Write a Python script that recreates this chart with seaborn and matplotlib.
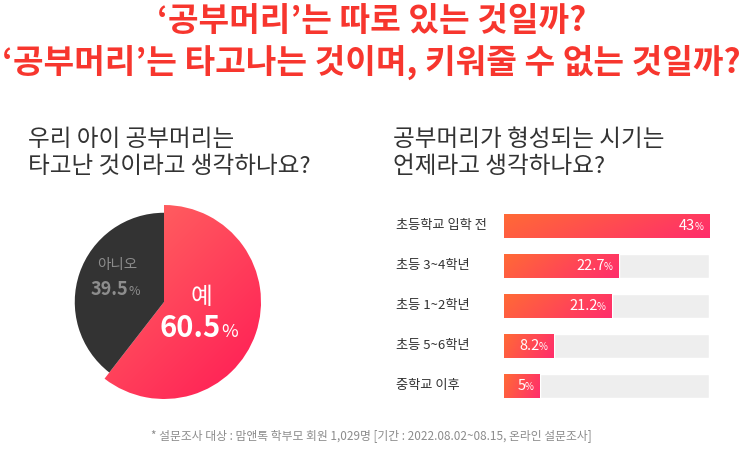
import matplotlib.pyplot as plt
import matplotlib.colors as mcolors
import numpy as np
import seaborn as sns

# data
pie_labels = ['예', '아니오']
pie_values = [60.5, 39.5]
periods = ['초등학교 입학 전', '초등 3~4학년', '초등 1~2학년', '초등 5~6학년', '중학교 이후']
period_values = [43, 22.7, 21.2, 8.2, 5]

title_lines = ["‘공부머리’는 따로 있는 것일까?", "‘공부머리’는 타고나는 것이며, 키워줄 수 없는 것일까?"]
q_left = ['우리 아이 공부머리는', '타고난 것이라고 생각하나요?']
q_right = ['공부머리가 형성되는 시기는', '언제라고 생각하나요?']
footnote = '* 설문조사 대상 : 맘앤톡 학부모 회원 1,029명 [기간 : 2022.08.02~08.15, 온라인 설문조사]'

sns.set_theme(style='white')
plt.rcParams['font.family'] = ['Noto Sans CJK KR', 'DejaVu Sans']

W, H = 743, 471
fig = plt.figure(figsize=(W / 100, H / 100), dpi=100)
fig.patch.set_facecolor('white')

red = '#f7362e'
for i, line in enumerate(title_lines):
    fig.text(0.5, 1 - (22 + 40 * i) / H, line, ha='center', va='center',
             fontsize=24, weight='heavy', color=red)

# the two questions
for i in range(2):
    fig.text(28 / W, 1 - (140 + 27 * i) / H, q_left[i], ha='left', va='center',
             fontsize=17, weight='medium', color='#333333')
    fig.text(393 / W, 1 - (140 + 27 * i) / H, q_right[i], ha='left', va='center',
             fontsize=17, weight='medium', color='#333333')
fig.text(0.5, 1 - 436 / H, footnote, ha='center', va='center', fontsize=8.5, color='#8c8c8c')


def grad(c1, c2, wx=0.5, n=200):
    cmap = mcolors.LinearSegmentedColormap.from_list('g', [c1, c2])
    xx, yy = np.meshgrid(np.linspace(0, 1, n), np.linspace(0, 1, n))
    return cmap(wx * xx + (1 - wx) * yy)


# pie
cx, cy, r = 164, 302, 97
ax1 = fig.add_axes([(cx - r) / W, (H - cy - r) / H, 2 * r / W, 2 * r / H])
wedges, _ = ax1.pie(pie_values, startangle=90, counterclock=False, radius=1,
                    colors=['none', '#333333'], wedgeprops=dict(linewidth=0))
wedges[1].set_radius(0.92)
img = ax1.imshow(grad('#ff7262', '#ff1a55'), extent=(-1, 1, -1, 1), origin='upper',
                 interpolation='bilinear', zorder=0)
img.set_clip_path(wedges[0])
ax1.set_xlim(-1, 1)
ax1.set_ylim(-1, 1)
ax1.axis('off')

ax1.text(-0.485, 0.38, pie_labels[1], ha='center', va='center', fontsize=10.5, color='#8d8d8d')
ax1.text(-0.37, 0.07, f'{pie_values[1]}', ha='right', va='baseline', fontsize=13,
         weight='bold', color='#8d8d8d')
ax1.text(-0.37, 0.07, '%', ha='left', va='baseline', fontsize=9, color='#8d8d8d')
ax1.text(0.39, 0.05, pie_labels[0], ha='center', va='center', fontsize=17, color='white')
ax1.text(0.59, -0.36, f'{pie_values[0]}', ha='right', va='baseline', fontsize=21,
         weight='bold', color='white')
ax1.text(0.59, -0.36, '%', ha='left', va='baseline', fontsize=13, color='white')

# bars
ax2 = fig.add_axes([504 / W, (H - 406) / H, 205 / W, 200 / H])
xmin, xmax = -3, max(period_values)
sns.barplot(x=[xmax] * len(periods), y=periods, color='#eeeeee', width=0.6, ax=ax2)
n_track = len(ax2.patches)
sns.barplot(x=period_values, y=periods, color='#ff5040', width=0.6, ax=ax2)
ax2.axis('off')

for p in ax2.patches[:n_track]:
    p.set_width(p.get_width() - xmin)
    p.set_x(xmin)
for p, v in zip(ax2.patches[n_track:], period_values):
    p.set_width(v - xmin)
    p.set_x(xmin)
    p.set_facecolor('none')
    x0, y0 = p.get_x(), p.get_y()
    im = ax2.imshow(grad('#ff6a36', '#ff2d6c', wx=0.8),
                    extent=(x0, x0 + p.get_width(), y0 + p.get_height(), y0),
                    aspect='auto', interpolation='bilinear', zorder=2)
    im.set_clip_path(p)
    ax2.annotate('%', (v, y0 + p.get_height() / 2), xytext=(-6, -1), textcoords='offset pixels',
                 ha='right', va='center', fontsize=7, color='white', zorder=3)
    ax2.annotate(f'{v:g}', (v, y0 + p.get_height() / 2), xytext=(-14, 0), textcoords='offset pixels',
                 ha='right', va='center', fontsize=10.5, weight='medium', color='white', zorder=3)
ax2.set_xlim(xmin, xmax)
ax2.set_ylim(4.5, -0.5)

for i, lab in enumerate(periods):
    ax2.text((396 - 504) / 205, i, lab, transform=ax2.get_yaxis_transform(),
             ha='left', va='center', fontsize=9.5, color='#333333')

fig.savefig('out.png', dpi=100)
